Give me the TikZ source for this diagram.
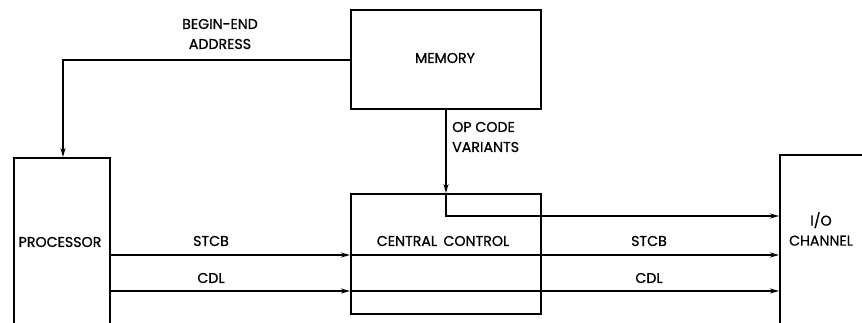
\documentclass[tikz,border=0pt]{standalone}
\usepackage{fontspec}
\setmainfont{Poppins}[FakeBold=0.9]
\usetikzlibrary{arrows.meta}
\begin{document}
\begin{tikzpicture}[x=1pt, y=-1pt,
  box/.style={draw, line width=1.6pt, inner sep=0pt},
  lbl/.style={inner sep=0pt, font=\fontsize{14.2}{20}\selectfont, align=center},
  wire/.style={line width=1.6pt},
  arr/.style={wire, -{Stealth[length=9pt, width=5pt]}}]
  \clip (0,0) rectangle (862,323);
  \fill[white] (0,0) rectangle (862,323);

  % blocks
  \node[box, minimum width=190pt, minimum height=99pt, anchor=north west] (mem) at (350,9) {};
  \node[lbl] (memt) at (445,58) {MEMORY};
  \node[box, minimum width=96pt, minimum height=190pt, anchor=north west] (proc) at (13,157) {};
  \node[lbl] (proct) at (60,242) {PROCESSOR};
  \node[box, minimum width=190pt, minimum height=120pt, anchor=north west] (cc) at (350,193) {};
  \node[lbl] (cct) at (443,241) {CENTRAL\hspace{0.45em}CONTROL};
  \node[box, minimum width=100pt, minimum height=200pt, anchor=north west] (io) at (779,154) {};
  \node[lbl] (iot) at (821,229) {I/O\\CHANNEL};

  % address path from memory to processor
  \coordinate (addrL) at (63,60);
  \draw[arr] (mem.west |- addrL) -- (addrL) -- (addrL |- proc.north);
  \node[lbl] (addrt) at (220,34) {BEGIN-END\\ADDRESS};

  % op code variants through central control to the channel
  \coordinate (opx) at (446,216);
  \draw[arr] (opx |- mem.south) -- (opx |- cc.north);
  \draw[arr] (opx |- cc.north) -- (opx) -- (opx -| io.west);
  \node[lbl, anchor=west, align=left] (opt) at (452,137) {OP CODE\\VARIANTS};

  % STCB and CDL buses
  \coordinate (stcb) at (109,255);
  \coordinate (cdl) at (109,291);
  \draw[arr] (stcb -| proc.east) -- (stcb -| cc.west);
  \draw[arr] (stcb -| cc.west) -- (stcb -| io.west);
  \draw[arr] (cdl -| proc.east) -- (cdl -| cc.west);
  \draw[arr] (cdl -| cc.west) -- (cdl -| io.west);
  \node[lbl] (stcbl) at (211,241) {STCB};
  \node[lbl] (cdll) at (211,278) {CDL};
  \node[lbl] (stcbr) at (649,241) {STCB};
  \node[lbl] (cdlr) at (649,278) {CDL};
\end{tikzpicture}
\end{document}
